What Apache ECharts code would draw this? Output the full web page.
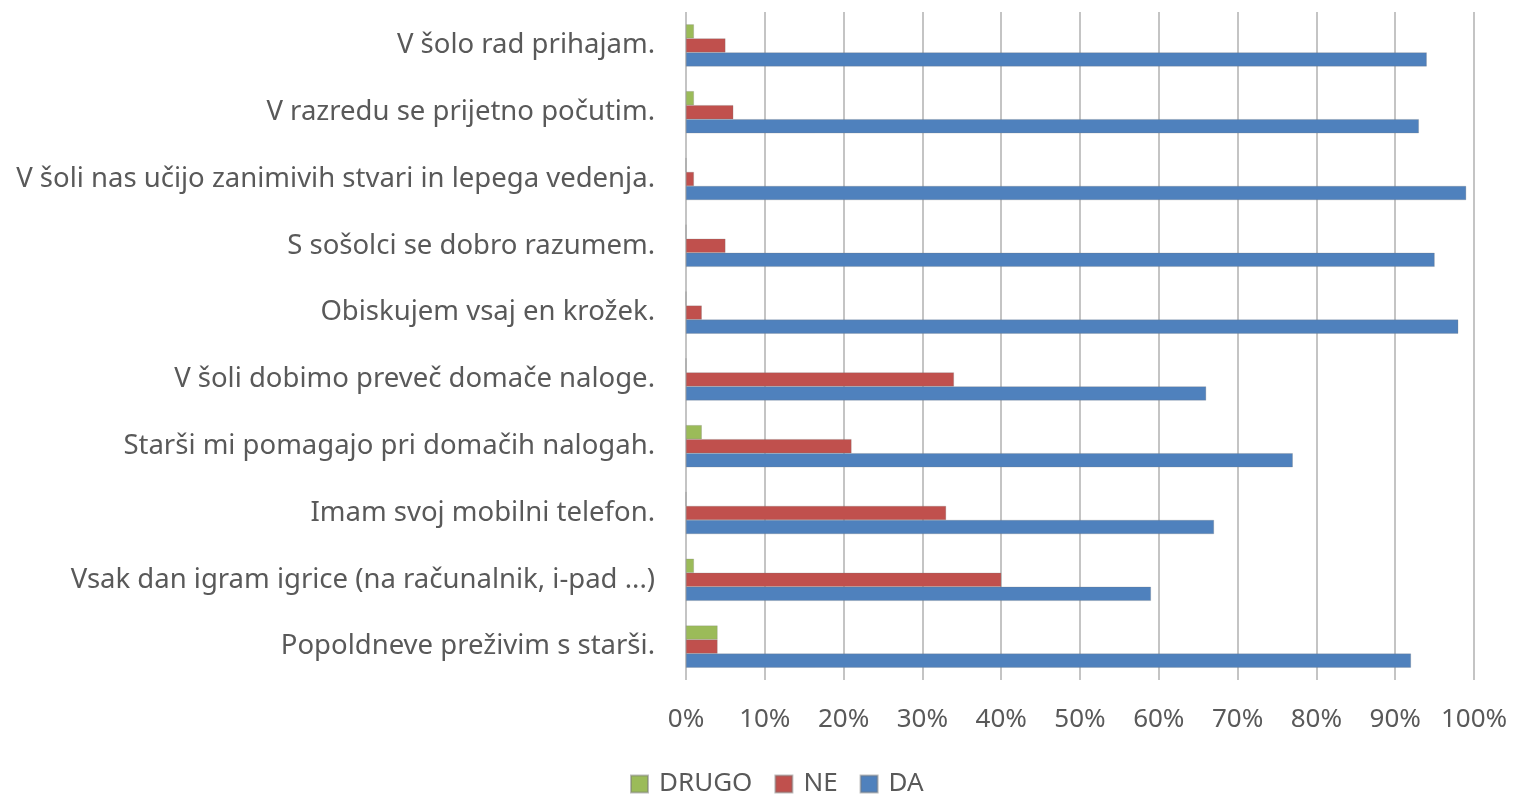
<!DOCTYPE html>
<html>
<head>
<meta charset="utf-8">
<script src="https://cdn.jsdelivr.net/npm/echarts@6/dist/echarts.min.js"></script>
<style>
  html, body { margin: 0; padding: 0; background: #fff; }
  #chart { width: 1514px; height: 795px; }
</style>
</head>
<body>
<div id="chart"></div>
<script>
var categories = [
  'V šolo rad prihajam.',
  'V razredu se prijetno počutim.',
  'V šoli nas učijo zanimivih stvari in lepega vedenja.',
  'S sošolci se dobro razumem.',
  'Obiskujem vsaj en krožek.',
  'V šoli dobimo preveč domače naloge.',
  'Starši mi pomagajo pri domačih nalogah.',
  'Imam svoj mobilni telefon.',
  'Vsak dan igram igrice (na računalnik, i-pad ...)',
  'Popoldneve preživim s starši.'
];
var drugo = [1, 1, 0, 0, 0, 0, 2, 0, 1, 4];
var ne = [5, 6, 1, 5, 2, 34, 21, 33, 40, 4];
var da = [94, 93, 99, 95, 98, 66, 77, 67, 59, 92];
var seriesNames = ['DRUGO', 'NE', 'DA'];
var colors = ['#9bbb59', '#c0504d', '#4f81bd'];

var myChart = echarts.init(document.getElementById('chart'));
var font = 'Noto Sans';
function makeSeries(name, data, color) {
  return {
    name: name,
    type: 'bar',
    data: data,
    barGap: '0%',
    barCategoryGap: '37%',
    itemStyle: { color: color, borderColor: 'rgba(120,120,120,0.5)', borderWidth: 0.5 }
  };
}
var option = {
  backgroundColor: '#fff',
  animation: false,
  color: colors,
  legend: {
    data: seriesNames,
    left: 625,
    top: 766,
    icon: 'rect',
    itemWidth: 17,
    itemHeight: 17,
    itemGap: 22,
    textStyle: { fontFamily: font, fontSize: 26, color: '#595959', padding: [0, 0, 0, 6] }
  },
  grid: { left: 686, right: 40, top: 12, bottom: 115 },
  xAxis: {
    type: 'value',
    min: 0,
    max: 100,
    interval: 10,
    axisLine: { show: false },
    axisTick: { show: false },
    axisLabel: {
      formatter: '{value}%',
      fontFamily: font,
      fontSize: 26,
      color: '#595959',
      margin: 27
    },
    splitLine: { show: true, lineStyle: { color: '#c4c4c4', width: 2 } }
  },
  yAxis: {
    type: 'category',
    data: categories,
    inverse: true,
    axisLine: { show: false },
    axisTick: { show: false },
    axisLabel: {
      fontFamily: font,
      fontSize: 27.5,
      color: '#595959',
      margin: 31
    }
  },
  series: [
    makeSeries(seriesNames[0], drugo, colors[0]),
    makeSeries(seriesNames[1], ne, colors[1]),
    makeSeries(seriesNames[2], da, colors[2])
  ]
};
myChart.setOption(option);
</script>
</body>
</html>
